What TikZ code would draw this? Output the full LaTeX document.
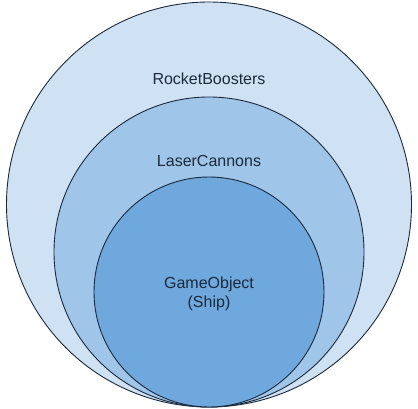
\documentclass[tikz,border=0pt]{standalone}
\usepackage{fontspec}
\setmainfont{Liberation Sans}
\definecolor{blueA}{HTML}{CFE2F3}
\definecolor{blueB}{HTML}{9FC5E8}
\definecolor{blueC}{HTML}{6FA8DC}
\definecolor{rimcol}{HTML}{1B2A3C}
\tikzset{
    ring/.style={circle, draw=rimcol, line width=0.9pt, inner sep=0pt},
    tag/.style={font=\fontsize{16}{19}\selectfont, text=rimcol, align=center}
}
\begin{document}
\begin{tikzpicture}[x=1pt,y=-1pt]
    \useasboundingbox (0,0) rectangle (418,409);
    % nested layers, all touching at the bottom
    \node[ring, fill=blueA, minimum size=405pt] (rocket) at (209,204.5) {};
    \node[ring, fill=blueB, minimum size=310pt] (laser) at (209,252) {};
    \node[ring, fill=blueC, minimum size=230pt] (ship) at (209,292) {};
    \node[tag] (rockettag) at (209,79) {RocketBoosters};
    \node[tag] (lasertag) at (209,161) {LaserCannons};
    \node[tag] (shiptag) at (209,294) {GameObject\\(Ship)};
\end{tikzpicture}
\end{document}
